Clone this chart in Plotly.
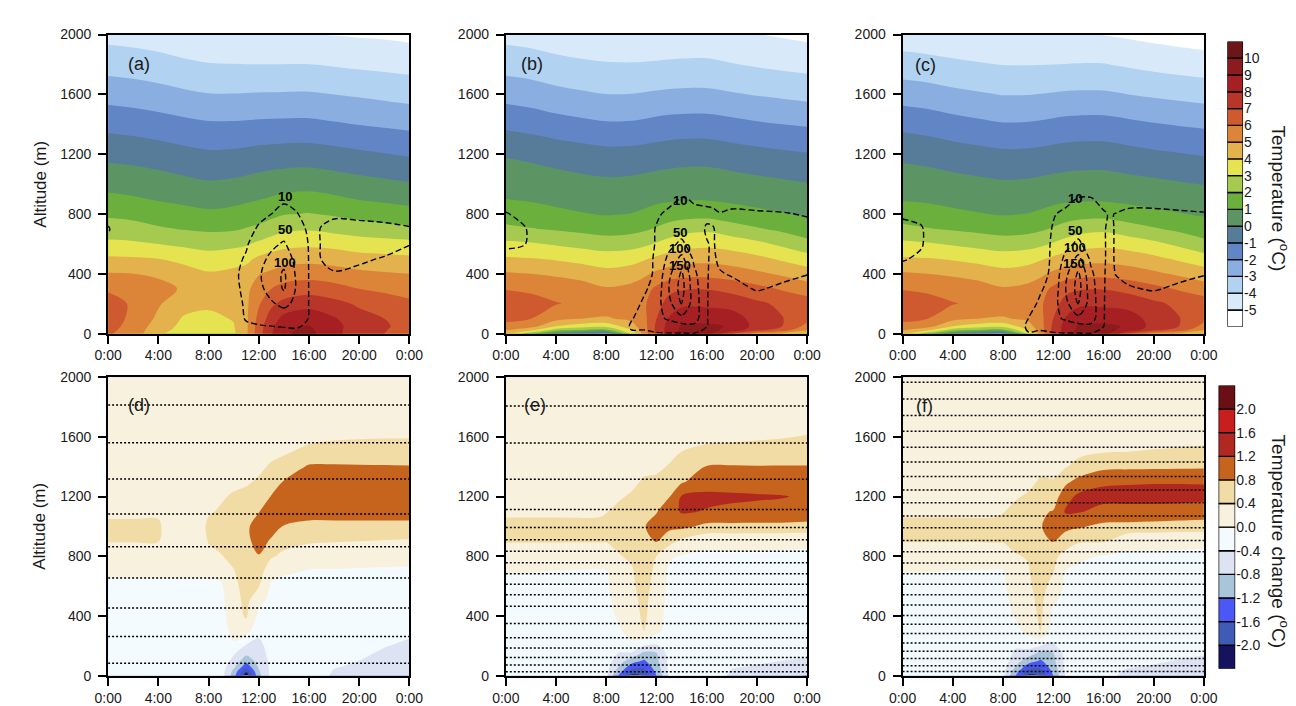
import numpy as np
import plotly.graph_objects as go

FONT = "Liberation Sans, Arial, Helvetica, sans-serif"

HOUR_TICKS = [0, 4, 8, 12, 16, 20, 24]
HOUR_LABELS = ["0:00", "4:00", "8:00", "12:00", "16:00", "20:00", "0:00"]
ALT_TICKS = [0, 400, 800, 1200, 1600, 2000]

# ---- colour scales -------------------------------------------------------
TEMP_LEVELS = [-5, -4, -3, -2, -1, 0, 1, 2, 3, 4, 5, 6, 7, 8, 9, 10]
TEMP_COLORS = ["#FFFFFF", "#D8EAF9", "#B1D2F1", "#8BAEE0", "#6286C5", "#577C9A",
               "#5C9464", "#6BAF3D", "#A6C94F", "#E6E351", "#E3B24C", "#DC8539",
               "#CF5A2F", "#B8352A", "#A51F23", "#8C1B1E", "#6B1619"]
DIFF_LEVELS = [-2.0, -1.6, -1.2, -0.8, -0.4, 0.0, 0.4, 0.8, 1.2, 1.6, 2.0]
DIFF_COLORS = ["#16135E", "#3F5BB5", "#4B58F5", "#A9C5D9", "#DDE3F2", "#F3FBFE",
               "#F8F1DE", "#F2DCA5", "#C6631D", "#B0281F", "#C81E1E", "#6A0F14"]

# ---- temperature (panels a-c): vertical profiles at each time ------------
T_TIMES = [0, 2, 4, 6, 8, 10, 11, 12, 13, 14, 16, 18, 20, 22, 24]
T_ALTS = [0, 25, 50, 100, 200, 300, 400, 500, 600, 700, 800, 900, 1000, 1200, 1400, 1600, 1800, 2000]

TEMP_A = [
    [6.1, 6.2, 6.3, 6.4, 6.3, 5.9, 5.06, 4.17, 3.21, 2.48, 1.84, 1.23, 0.70, -0.27, -1.30, -2.37, -3.39, -4.31],
    [5.6, 5.65, 5.7, 5.8, 5.9, 5.7, 5.0, 4.12, 3.15, 2.4, 1.7, 1.1, 0.6, -0.37, -1.41, -2.48, -3.48, -4.40],
    [4.1, 4.3, 4.5, 4.8, 5.1, 5.3, 4.85, 4.0, 3.0, 2.12, 1.50, 0.92, 0.46, -0.51, -1.56, -2.64, -3.61, -4.53],
    [3.6, 3.7, 3.75, 3.9, 4.4, 4.9, 4.5, 3.7, 2.8, 1.95, 1.33, 0.78, 0.28, -0.70, -1.74, -2.82, -3.80, -4.75],
    [3.5, 3.55, 3.6, 3.8, 4.15, 4.4, 4.1, 3.45, 2.63, 1.84, 1.18, 0.63, 0.12, -0.85, -1.88, -2.96, -3.94, -4.93],
    [3.85, 3.9, 3.95, 4.05, 4.3, 4.5, 4.25, 3.6, 2.75, 1.9, 1.30, 0.72, 0.20, -0.80, -1.88, -2.97, -3.98, -4.97],
    [4.8, 4.8, 4.8, 4.8, 4.8, 4.8, 4.4, 3.75, 2.9, 2.05, 1.43, 0.84, 0.30, -0.74, -1.85, -2.95, -3.99, -4.98],
    [6.6, 6.55, 6.5, 6.3, 5.9, 5.4, 4.95, 4.2, 3.2, 2.2, 1.57, 0.96, 0.42, -0.66, -1.81, -2.93, -3.99, -4.99],
    [7.9, 7.85, 7.8, 7.5, 6.8, 6.0, 5.2, 4.4, 3.5, 2.5, 1.75, 1.10, 0.52, -0.60, -1.79, -2.92, -3.99, -4.99],
    [8.9, 8.8, 8.7, 8.3, 7.3, 6.35, 5.45, 4.6, 3.7, 2.8, 1.95, 1.25, 0.62, -0.56, -1.78, -2.91, -3.99, -4.99],
    [9.3, 9.2, 9.05, 8.6, 7.65, 6.55, 5.6, 4.7, 3.8, 2.9, 2.05, 1.34, 0.68, -0.54, -1.77, -2.90, -3.99, -4.99],
    [8.3, 8.3, 8.3, 8.1, 7.3, 6.35, 5.45, 4.6, 3.7, 2.7, 1.88, 1.17, 0.54, -0.66, -1.90, -3.00, -4.08, -5.03],
    [7.4, 7.45, 7.5, 7.35, 6.85, 6.0, 5.23, 4.39, 3.48, 2.51, 1.66, 0.96, 0.36, -0.82, -2.03, -3.11, -4.18, -5.10],
    [7.0, 7.05, 7.1, 7.0, 6.5, 5.8, 5.1, 4.3, 3.4, 2.35, 1.52, 0.83, 0.22, -0.96, -2.14, -3.23, -4.26, -5.15],
    [6.6, 6.65, 6.7, 6.6, 6.2, 5.6, 5.0, 4.2, 3.3, 2.2, 1.37, 0.69, 0.08, -1.10, -2.25, -3.36, -4.34, -5.25],
]

TEMP_B = [
    [4.3, 5.1, 5.7, 6.25, 6.6, 5.95, 5.12, 4.12, 3.22, 2.2, 1.55, 1.0, 0.64, -0.09, -1.22, -2.36, -3.39, -4.31],
    [2.2, 4.3, 5.4, 6.0, 6.4, 5.8, 5.0, 4.05, 3.1, 2.05, 1.4, 0.9, 0.55, -0.22, -1.38, -2.5, -3.5, -4.42],
    [0.0, 2.5, 4.0, 5.3, 6.05, 5.65, 4.85, 3.9, 2.9, 1.9, 1.2, 0.78, 0.42, -0.4, -1.6, -2.72, -3.68, -4.62],
    [-0.8, 2.0, 3.5, 5.0, 5.8, 5.5, 4.6, 3.7, 2.7, 1.75, 1.05, 0.68, 0.3, -0.55, -1.76, -2.87, -3.82, -4.78],
    [-1.2, 1.8, 3.3, 4.9, 5.6, 5.1, 4.3, 3.53, 2.5, 1.6, 0.94, 0.58, 0.21, -0.69, -1.89, -2.99, -3.91, -4.90],
    [3.2, 4.0, 4.6, 5.2, 5.7, 5.3, 4.5, 3.65, 2.6, 1.7, 1.02, 0.64, 0.26, -0.66, -1.87, -2.98, -3.93, -4.92],
    [5.4, 5.5, 5.6, 5.7, 5.85, 5.6, 4.8, 3.9, 2.8, 1.85, 1.15, 0.72, 0.34, -0.6, -1.8, -2.93, -3.91, -4.91],
    [7.3, 7.25, 7.2, 7.0, 6.6, 6.2, 5.2, 4.2, 3.1, 2.1, 1.33, 0.82, 0.42, -0.52, -1.7, -2.87, -3.87, -4.88],
    [8.5, 8.45, 8.4, 8.1, 7.4, 6.7, 5.5, 4.45, 3.4, 2.4, 1.5, 0.88, 0.48, -0.45, -1.62, -2.82, -3.83, -4.84],
    [9.3, 9.2, 9.1, 8.6, 7.8, 6.9, 5.65, 4.6, 3.6, 2.65, 1.6, 0.92, 0.52, -0.4, -1.58, -2.79, -3.8, -4.8],
    [9.5, 9.4, 9.2, 8.6, 7.8, 6.95, 5.7, 4.7, 3.75, 2.8, 1.65, 0.93, 0.53, -0.39, -1.57, -2.79, -3.79, -4.80],
    [7.0, 8.6, 8.9, 8.5, 7.6, 6.7, 5.5, 4.55, 3.55, 2.45, 1.4, 0.83, 0.42, -0.55, -1.72, -2.92, -3.95, -4.93],
    [5.5, 7.3, 7.6, 7.6, 7.2, 6.3, 5.2, 4.25, 3.25, 2.1, 1.2, 0.72, 0.3, -0.7, -1.88, -3.05, -4.1, -4.98],
    [4.8, 6.5, 7.0, 7.05, 6.8, 5.9, 4.85, 3.85, 2.8, 1.8, 1.05, 0.62, 0.17, -0.82, -2.0, -3.17, -4.22, -5.1],
    [4.3, 5.1, 5.7, 6.25, 6.5, 5.5, 4.48, 3.46, 2.28, 1.52, 0.89, 0.53, 0.05, -0.93, -2.1, -3.29, -4.32, -5.23],
]

TEMP_C = [
    [4.3, 5.1, 5.7, 6.25, 6.6, 5.95, 5.12, 4.12, 3.22, 2.25, 1.53, 0.92, 0.56, -0.23, -1.28, -2.44, -3.57, -4.55],
    [2.2, 4.3, 5.4, 6.0, 6.4, 5.8, 5.0, 4.05, 3.1, 2.05, 1.4, 0.85, 0.47, -0.34, -1.42, -2.56, -3.66, -4.65],
    [0.0, 2.5, 4.0, 5.3, 6.05, 5.65, 4.85, 3.9, 2.9, 1.9, 1.2, 0.73, 0.35, -0.52, -1.62, -2.76, -3.8, -4.78],
    [-0.8, 2.0, 3.5, 5.0, 5.8, 5.5, 4.6, 3.7, 2.7, 1.75, 1.05, 0.63, 0.24, -0.67, -1.78, -2.9, -3.92, -4.88],
    [-1.2, 1.8, 3.3, 4.9, 5.6, 5.1, 4.3, 3.53, 2.5, 1.6, 0.94, 0.53, 0.14, -0.8, -1.93, -3.03, -4.02, -4.95],
    [3.2, 4.0, 4.6, 5.2, 5.7, 5.3, 4.5, 3.65, 2.6, 1.7, 1.02, 0.59, 0.18, -0.78, -1.91, -3.02, -4.03, -4.96],
    [5.4, 5.5, 5.6, 5.7, 5.85, 5.6, 4.8, 3.9, 2.8, 1.85, 1.15, 0.67, 0.26, -0.72, -1.85, -2.98, -4.02, -4.97],
    [7.3, 7.25, 7.2, 7.0, 6.6, 6.2, 5.2, 4.2, 3.1, 2.1, 1.33, 0.77, 0.34, -0.64, -1.76, -2.93, -4.0, -4.98],
    [8.5, 8.45, 8.4, 8.1, 7.4, 6.7, 5.5, 4.45, 3.4, 2.4, 1.5, 0.83, 0.4, -0.57, -1.68, -2.88, -3.98, -4.98],
    [9.3, 9.2, 9.1, 8.6, 7.8, 6.9, 5.65, 4.6, 3.6, 2.65, 1.6, 0.87, 0.44, -0.53, -1.64, -2.85, -3.96, -4.97],
    [9.5, 9.4, 9.2, 8.6, 7.8, 6.95, 5.7, 4.7, 3.75, 2.8, 1.65, 0.88, 0.45, -0.52, -1.63, -2.86, -3.96, -5.02],
    [7.0, 8.6, 8.9, 8.5, 7.6, 6.7, 5.5, 4.55, 3.55, 2.45, 1.4, 0.78, 0.34, -0.68, -1.78, -3.0, -4.12, -5.15],
    [5.5, 7.3, 7.6, 7.6, 7.2, 6.3, 5.2, 4.25, 3.25, 2.1, 1.2, 0.67, 0.22, -0.83, -1.94, -3.13, -4.28, -5.3],
    [4.8, 6.5, 7.0, 7.05, 6.8, 5.9, 4.85, 3.85, 2.8, 1.8, 1.05, 0.57, 0.09, -0.95, -2.06, -3.25, -4.4, -5.42],
    [4.3, 5.1, 5.7, 6.25, 6.5, 5.5, 4.48, 3.46, 2.28, 1.52, 0.89, 0.48, -0.03, -1.07, -2.16, -3.37, -4.5, -5.53],
]

# ---- dashed field (panels a-c): vertical profiles at each time -----------
W_TIMES = [0, 1.5, 3, 9, 10, 11, 12, 13, 14, 15, 16, 16.5, 17, 18, 20, 22, 24]
W_ALTS = [0, 50, 100, 200, 300, 400, 500, 600, 700, 800, 900, 1000]

W_A = [
    [0, 0, 0, 0, 0, 0, 2, 8, 11, 6, 0, 0],
    [0, 0, 0, 0, 0, 0, 0, 0, 0, 0, 0, 0],
    [0, 0, 0, 0, 0, 0, 0, 0, 0, 0, 0, 0],
    [0, 0, 0, 0, 0, 0, 0, 0, 0, 0, 0, 0],
    [0, 2, 4, 5, 6, 6, 5, 4, 2, 0, 0, 0],
    [2, 8, 11, 12, 14, 16, 12, 8, 4, 2, 0, 0],
    [4, 9, 14, 25, 40, 45, 35, 20, 12, 6, 2, 0],
    [5, 10, 20, 45, 65, 70, 60, 40, 14, 10, 4, 0],
    [5, 11, 25, 60, 105, 108, 80, 55, 28, 14, 8, 0],
    [5, 12, 20, 40, 45, 42, 35, 22, 15, 11, 5, 0],
    [2, 7, 9, 9, 9, 9, 9, 9, 8, 4, 0, 0],
    [0, 2, 3, 3, 3, 4, 5, 6, 7, 3, 0, 0],
    [0, 0, 0, 0, 2, 6, 10.5, 11, 11, 6, 0, 0],
    [0, 0, 0, 0, 3, 9, 14, 15, 14, 8, 0, 0],
    [0, 0, 0, 0, 4, 7, 12, 17, 14, 7, 0, 0],
    [0, 0, 0, 0, 2, 5, 9, 15, 13, 6, 0, 0],
    [0, 0, 0, 0, 0, 2, 5, 10.5, 11, 5, 0, 0],
]

W_B = [
    [0, 0, 0, 0, 0, 1, 6, 12, 14, 11, 3, 0],
    [0, 0, 0, 0, 0, 0, 4, 10.5, 11, 6, 0, 0],
    [0, 0, 0, 0, 0, 0, 0, 0, 0, 0, 0, 0],
    [0, 0, 0, 0, 0, 0, 0, 0, 0, 0, 0, 0],
    [8, 12, 9, 5, 3, 2, 1, 0, 0, 0, 0, 0],
    [6, 14, 16, 12, 8, 6, 5, 4, 3, 2, 0, 0],
    [7, 25, 40, 30, 15, 12, 12, 11, 11, 8, 3, 0],
    [8, 30, 55, 85, 102, 88, 62, 36, 18, 13, 6, 0],
    [8, 30, 85, 152, 170, 158, 115, 60, 30, 18, 11, 2],
    [8, 40, 70, 75, 70, 60, 40, 22, 15, 12, 9, 2],
    [4, 10.5, 11, 11, 11, 11, 11, 10.5, 9, 12, 8, 2],
    [0, 2, 4, 5, 6, 7, 8, 9, 9.5, 12, 7, 0],
    [0, 0, 1, 3, 5, 9, 12, 13, 12, 11, 3, 0],
    [0, 0, 0, 2, 6, 11, 15, 16, 16, 13, 4, 0],
    [0, 0, 0, 4, 11, 15, 17, 17, 16, 12, 3, 0],
    [0, 0, 0, 2, 8, 13, 16, 17, 15, 11, 3, 0],
    [0, 0, 0, 0, 4, 10.5, 14, 15, 14, 9, 2, 0],
]

W_C = [
    [0, 0, 0, 0, 0, 5, 11, 13, 12, 9, 2, 0],
    [0, 0, 0, 0, 0, 3, 8, 11, 11, 7, 0, 0],
    [0, 0, 0, 0, 0, 0, 0, 0, 0, 0, 0, 0],
    [0, 0, 0, 0, 0, 0, 0, 0, 0, 0, 0, 0],
    [9, 13, 10, 6, 3, 2, 1, 0, 0, 0, 0, 0],
    [7, 14, 16, 12, 9, 7, 5, 4, 3, 2, 0, 0],
    [7, 25, 40, 30, 14, 12, 12, 12, 11, 9, 2, 0],
    [8, 30, 55, 85, 102, 88, 62, 36, 18, 13, 6, 0],
    [8, 30, 85, 152, 170, 158, 115, 60, 30, 18, 11, 2],
    [8, 40, 70, 75, 70, 60, 40, 22, 15, 12, 11, 2],
    [4, 10.5, 11, 11, 11, 11, 11, 11, 11, 11.5, 6, 0],
    [0, 2, 4, 5, 6, 7, 8, 8, 8, 9, 4, 0],
    [0, 0, 1, 3, 6, 10.5, 11, 11, 11, 10.5, 2, 0],
    [0, 0, 0, 3, 9, 13, 15, 16, 15, 13, 5, 0],
    [0, 0, 0, 4, 11, 15, 17, 17, 16, 13, 5, 0],
    [0, 0, 0, 2, 8, 13, 16, 17, 15, 12, 4, 0],
    [0, 0, 0, 0, 3, 11, 14, 15, 14, 11, 3, 0],
]

W_LABELS = {
    0: [("10", 14.1, 915), ("50", 14.1, 697), ("100", 14.1, 479)],
    1: [("10", 13.9, 893), ("50", 13.9, 675), ("100", 13.9, 566), ("150", 13.9, 458)],
    2: [("10", 13.75, 905), ("50", 13.75, 691), ("100", 13.75, 577), ("150", 13.65, 468)],
}

# ---- temperature change (panels d-f): vertical profiles at each time -----
D_TIMES = [0, 2, 4, 4.4, 7.6, 8, 9, 10, 11, 12, 13, 14, 16, 18, 20, 22, 24]
D_ALTS = [0, 30, 60, 100, 150, 200, 300, 400, 500, 600, 700, 800, 900, 1000, 1100,
          1200, 1300, 1400, 1500, 1600, 1700, 2000]

DIFF_D = [
    [-0.15, -0.15, -0.15, -0.15, -0.15, -0.15, -0.15, -0.15, -0.15, -0.12, 0.1, 0.25, 0.41, 0.5, 0.3, 0.2, 0.2, 0.2, 0.2, 0.2, 0.2, 0.2],
    [-0.15, -0.15, -0.15, -0.15, -0.15, -0.15, -0.15, -0.15, -0.15, -0.12, 0.1, 0.25, 0.41, 0.5, 0.3, 0.2, 0.2, 0.2, 0.2, 0.2, 0.2, 0.2],
    [-0.15, -0.15, -0.15, -0.15, -0.15, -0.15, -0.15, -0.15, -0.15, -0.12, 0.1, 0.25, 0.41, 0.5, 0.3, 0.2, 0.2, 0.2, 0.2, 0.2, 0.2, 0.2],
    [-0.15, -0.15, -0.15, -0.15, -0.15, -0.15, -0.15, -0.15, -0.15, -0.12, 0.1, 0.22, 0.3, 0.33, 0.25, 0.2, 0.2, 0.2, 0.2, 0.2, 0.2, 0.2],
    [-0.15, -0.15, -0.15, -0.15, -0.15, -0.15, -0.15, -0.15, -0.15, -0.12, 0.1, 0.22, 0.3, 0.33, 0.25, 0.2, 0.2, 0.2, 0.2, 0.2, 0.2, 0.2],
    [-0.15, -0.15, -0.15, -0.15, -0.15, -0.15, -0.15, -0.15, -0.15, -0.1, 0.1, 0.3, 0.42, 0.5, 0.35, 0.22, 0.2, 0.2, 0.2, 0.2, 0.2, 0.2],
    [-0.2, -0.2, -0.2, -0.18, -0.17, -0.16, -0.15, -0.13, -0.1, -0.05, 0.1, 0.38, 0.5, 0.55, 0.45, 0.35, 0.25, 0.2, 0.2, 0.2, 0.2, 0.2],
    [-1.0, -0.9, -0.7, -0.5, -0.35, -0.05, 0.1, 0.2, 0.25, 0.3, 0.38, 0.5, 0.6, 0.65, 0.6, 0.45, 0.3, 0.22, 0.2, 0.2, 0.2, 0.2],
    [-2.3, -1.9, -1.45, -1.05, -0.7, -0.45, 0.15, 0.45, 0.5, 0.55, 0.6, 0.65, 0.7, 0.72, 0.7, 0.5, 0.35, 0.25, 0.2, 0.2, 0.2, 0.2],
    [-0.9, -0.85, -0.75, -0.65, -0.55, -0.5, -0.3, -0.1, 0.1, 0.42, 0.6, 0.78, 0.95, 1.0, 0.78, 0.6, 0.45, 0.32, 0.25, 0.2, 0.2, 0.2],
    [-0.3, -0.3, -0.3, -0.3, -0.28, -0.25, -0.2, -0.15, -0.1, -0.05, 0.1, 0.45, 0.75, 0.95, 1.05, 0.82, 0.6, 0.45, 0.3, 0.22, 0.2, 0.2],
    [-0.15, -0.15, -0.15, -0.15, -0.15, -0.15, -0.15, -0.13, -0.12, -0.1, 0.05, 0.3, 0.55, 0.78, 1.0, 1.05, 0.82, 0.55, 0.35, 0.22, 0.2, 0.2],
    [-0.2, -0.2, -0.2, -0.18, -0.17, -0.16, -0.15, -0.13, -0.12, -0.1, -0.02, 0.15, 0.45, 0.7, 0.95, 1.05, 1.05, 0.85, 0.5, 0.3, 0.22, 0.2],
    [-0.45, -0.42, -0.38, -0.33, -0.28, -0.25, -0.2, -0.16, -0.13, -0.1, -0.02, 0.12, 0.42, 0.7, 0.95, 1.05, 1.05, 0.85, 0.55, 0.35, 0.22, 0.2],
    [-0.5, -0.48, -0.45, -0.4, -0.36, -0.32, -0.25, -0.18, -0.14, -0.1, -0.03, 0.11, 0.4, 0.7, 0.95, 1.05, 1.05, 0.84, 0.55, 0.37, 0.23, 0.2],
    [-0.55, -0.53, -0.5, -0.47, -0.43, -0.39, -0.3, -0.2, -0.15, -0.1, -0.04, 0.1, 0.37, 0.7, 0.95, 1.05, 1.05, 0.83, 0.55, 0.38, 0.24, 0.2],
    [-0.6, -0.57, -0.55, -0.52, -0.48, -0.44, -0.36, -0.22, -0.16, -0.1, -0.05, 0.1, 0.35, 0.7, 0.95, 1.05, 1.05, 0.82, 0.55, 0.38, 0.25, 0.2],
]

DIFF_E = [
    [-0.12, -0.12, -0.12, -0.12, -0.12, -0.12, -0.12, -0.12, -0.1, -0.08, 0.02, 0.2, 0.42, 0.55, 0.3, 0.2, 0.2, 0.2, 0.2, 0.2, 0.2, 0.2],
    [-0.12, -0.12, -0.12, -0.12, -0.12, -0.12, -0.12, -0.12, -0.1, -0.08, 0.01, 0.2, 0.42, 0.55, 0.3, 0.2, 0.2, 0.2, 0.2, 0.2, 0.2, 0.2],
    [-0.13, -0.13, -0.13, -0.13, -0.13, -0.13, -0.13, -0.12, -0.11, -0.1, -0.01, 0.2, 0.42, 0.55, 0.3, 0.2, 0.2, 0.2, 0.2, 0.2, 0.2, 0.2],
    [-0.13, -0.13, -0.13, -0.13, -0.13, -0.13, -0.13, -0.12, -0.11, -0.1, -0.01, 0.2, 0.42, 0.55, 0.3, 0.2, 0.2, 0.2, 0.2, 0.2, 0.2, 0.2],
    [-0.2, -0.18, -0.16, -0.14, -0.13, -0.13, -0.13, -0.12, -0.11, -0.1, -0.03, 0.18, 0.42, 0.55, 0.32, 0.2, 0.2, 0.2, 0.2, 0.2, 0.2, 0.2],
    [-0.3, -0.28, -0.25, -0.2, -0.17, -0.15, -0.13, -0.11, -0.09, -0.07, -0.02, 0.18, 0.42, 0.55, 0.38, 0.22, 0.2, 0.2, 0.2, 0.2, 0.2, 0.2],
    [-1.25, -1.0, -0.82, -0.6, -0.42, -0.3, -0.05, 0.05, 0.12, 0.22, 0.3, 0.38, 0.47, 0.55, 0.5, 0.35, 0.25, 0.2, 0.2, 0.2, 0.2, 0.2],
    [-2.1, -1.75, -1.4, -1.0, -0.45, -0.1, 0.15, 0.2, 0.28, 0.33, 0.36, 0.45, 0.55, 0.6, 0.58, 0.45, 0.3, 0.22, 0.2, 0.2, 0.2, 0.2],
    [-2.0, -1.75, -1.5, -1.25, -0.9, -0.4, 0.42, 0.48, 0.5, 0.55, 0.6, 0.65, 0.7, 0.78, 0.75, 0.6, 0.45, 0.3, 0.22, 0.2, 0.2, 0.2],
    [-1.2, -1.1, -1.0, -0.9, -0.82, -0.45, 0.1, 0.15, 0.2, 0.25, 0.3, 0.4, 0.82, 0.92, 0.78, 0.6, 0.45, 0.35, 0.25, 0.2, 0.2, 0.2],
    [-0.35, -0.33, -0.3, -0.28, -0.25, -0.2, -0.15, -0.12, -0.1, -0.08, -0.06, 0.04, 0.55, 0.9, 1.0, 0.78, 0.55, 0.42, 0.32, 0.25, 0.2, 0.2],
    [-0.2, -0.2, -0.2, -0.18, -0.17, -0.16, -0.14, -0.12, -0.1, -0.08, -0.05, -0.02, 0.3, 0.9, 1.24, 1.23, 0.75, 0.55, 0.4, 0.25, 0.22, 0.2],
    [-0.2, -0.2, -0.19, -0.18, -0.17, -0.16, -0.14, -0.12, -0.1, -0.08, -0.06, -0.04, 0.06, 0.7, 1.18, 1.27, 1.05, 0.82, 0.48, 0.32, 0.25, 0.2],
    [-0.45, -0.42, -0.38, -0.32, -0.28, -0.24, -0.18, -0.14, -0.11, -0.09, -0.06, -0.03, 0.06, 0.7, 1.14, 1.25, 1.05, 0.83, 0.5, 0.34, 0.24, 0.2],
    [-0.55, -0.48, -0.42, -0.36, -0.3, -0.26, -0.2, -0.15, -0.12, -0.09, -0.07, -0.03, 0.05, 0.7, 1.12, 1.23, 1.05, 0.82, 0.52, 0.36, 0.25, 0.2],
    [-0.65, -0.55, -0.47, -0.4, -0.34, -0.29, -0.22, -0.16, -0.12, -0.1, -0.07, -0.03, 0.04, 0.7, 1.1, 1.215, 1.03, 0.82, 0.55, 0.38, 0.26, 0.2],
    [-0.85, -0.6, -0.5, -0.42, -0.37, -0.32, -0.24, -0.17, -0.13, -0.1, -0.07, -0.03, 0.03, 0.68, 1.05, 1.16, 1.0, 0.82, 0.55, 0.42, 0.28, 0.2],
]

DIFF_F = [
    [-0.12, -0.12, -0.12, -0.12, -0.12, -0.12, -0.12, -0.12, -0.1, -0.08, 0.01, 0.2, 0.41, 0.55, 0.3, 0.2, 0.2, 0.2, 0.2, 0.2, 0.2, 0.2],
    [-0.12, -0.12, -0.12, -0.12, -0.12, -0.12, -0.12, -0.12, -0.1, -0.08, 0.01, 0.2, 0.41, 0.55, 0.3, 0.2, 0.2, 0.2, 0.2, 0.2, 0.2, 0.2],
    [-0.13, -0.13, -0.13, -0.13, -0.13, -0.13, -0.13, -0.12, -0.11, -0.1, -0.01, 0.2, 0.41, 0.55, 0.3, 0.2, 0.2, 0.2, 0.2, 0.2, 0.2, 0.2],
    [-0.13, -0.13, -0.13, -0.13, -0.13, -0.13, -0.13, -0.12, -0.11, -0.1, -0.01, 0.2, 0.41, 0.55, 0.3, 0.2, 0.2, 0.2, 0.2, 0.2, 0.2, 0.2],
    [-0.2, -0.18, -0.16, -0.14, -0.13, -0.13, -0.13, -0.12, -0.11, -0.1, -0.03, 0.18, 0.42, 0.55, 0.32, 0.2, 0.2, 0.2, 0.2, 0.2, 0.2, 0.2],
    [-0.3, -0.28, -0.25, -0.2, -0.17, -0.15, -0.13, -0.11, -0.09, -0.07, -0.03, 0.18, 0.42, 0.55, 0.38, 0.22, 0.2, 0.2, 0.2, 0.2, 0.2, 0.2],
    [-1.2, -1.0, -0.82, -0.62, -0.48, -0.35, -0.1, 0.03, 0.1, 0.2, 0.3, 0.38, 0.48, 0.55, 0.5, 0.36, 0.25, 0.2, 0.2, 0.2, 0.2, 0.2],
    [-2.1, -1.75, -1.4, -1.0, -0.6, -0.25, 0.1, 0.2, 0.28, 0.33, 0.37, 0.42, 0.55, 0.6, 0.58, 0.45, 0.3, 0.22, 0.2, 0.2, 0.2, 0.2],
    [-2.0, -1.75, -1.5, -1.25, -0.9, -0.4, 0.42, 0.48, 0.5, 0.55, 0.6, 0.65, 0.7, 0.78, 0.75, 0.6, 0.45, 0.3, 0.22, 0.2, 0.2, 0.2],
    [-1.2, -1.1, -1.0, -0.9, -0.82, -0.45, -0.25, -0.1, 0.05, 0.25, 0.42, 0.5, 0.82, 0.95, 0.82, 0.6, 0.42, 0.32, 0.25, 0.2, 0.2, 0.2],
    [-0.35, -0.33, -0.3, -0.28, -0.25, -0.22, -0.17, -0.13, -0.1, -0.07, -0.02, 0.25, 0.6, 0.9, 1.25, 1.05, 0.72, 0.38, 0.28, 0.22, 0.2, 0.2],
    [-0.2, -0.2, -0.2, -0.18, -0.17, -0.16, -0.14, -0.12, -0.1, -0.08, -0.05, 0.05, 0.45, 0.85, 1.23, 1.28, 0.92, 0.5, 0.33, 0.25, 0.2, 0.2],
    [-0.3, -0.27, -0.24, -0.2, -0.18, -0.16, -0.14, -0.12, -0.1, -0.08, -0.06, -0.02, 0.42, 0.7, 1.1, 1.3, 1.15, 0.7, 0.38, 0.3, 0.24, 0.2],
    [-0.48, -0.44, -0.38, -0.32, -0.27, -0.23, -0.18, -0.14, -0.11, -0.09, -0.06, -0.03, 0.06, 0.68, 1.1, 1.3, 1.17, 0.72, 0.4, 0.3, 0.24, 0.2],
    [-0.55, -0.48, -0.42, -0.37, -0.31, -0.26, -0.2, -0.15, -0.12, -0.09, -0.07, -0.03, 0.05, 0.65, 1.1, 1.3, 1.18, 0.73, 0.42, 0.3, 0.25, 0.2],
    [-0.62, -0.52, -0.46, -0.41, -0.35, -0.29, -0.22, -0.16, -0.12, -0.1, -0.07, -0.03, 0.04, 0.62, 1.08, 1.3, 1.18, 0.74, 0.43, 0.32, 0.25, 0.2],
    [-0.8, -0.56, -0.5, -0.44, -0.38, -0.32, -0.24, -0.17, -0.13, -0.1, -0.07, -0.03, 0.03, 0.6, 1.05, 1.28, 1.18, 0.75, 0.45, 0.33, 0.26, 0.2],
]

# ---- model levels (dotted lines) in panels d-f ----------------------------
LEVELS_D = [83, 262, 454, 654, 864, 1084, 1318, 1561, 1814]
LEVELS_E = [26, 72, 122, 185, 255, 350, 465, 542, 612, 683, 757, 833, 911, 992, 1113, 1316, 1559, 1807]
LEVELS_F = [29, 67, 115, 164, 219, 282, 345, 403, 473, 542, 612, 683, 755, 831, 905, 991,
            1069, 1159, 1244, 1335, 1432, 1531, 1637, 1743, 1853, 1966]

PANEL_LABELS = ["(a)", "(b)", "(c)", "(d)", "(e)", "(f)"]
PANEL_LABEL_POS = [(2.5, 1800), (2.1, 1805), (1.8, 1795), (2.5, 1812), (2.3, 1810), (1.75, 1805)]

# ---- layout geometry (pixels) --------------------------------------------
W, H = 1296, 706
COLS = [(88, 396), (494.5, 802.5), (900, 1208)]
ROWS = [(19, 325), (369.5, 675)]


def xdom(a, b):
    return [a / W, b / W]


def ydom(top, bottom):
    return [1 - bottom / H, 1 - top / H]


def stepped(colors):
    n = len(colors)
    out = []
    for i, c in enumerate(colors):
        out.append([i / n, c])
        out.append([(i + 1) / n, c])
    return out


def grid(profiles):
    return np.array(profiles, dtype=float).T.tolist()


fig = go.Figure()

temp_sets = [TEMP_A, TEMP_B, TEMP_C]
w_sets = [W_A, W_B, W_C]
diff_sets = [DIFF_D, DIFF_E, DIFF_F]
level_sets = [LEVELS_D, LEVELS_E, LEVELS_F]

annotations = []

for i in range(3):
    xa, ya = ("x" if i == 0 else "x%d" % (i + 1)), ("y" if i == 0 else "y%d" % (i + 1))
    fig.add_trace(go.Contour(
        x=T_TIMES, y=T_ALTS, z=grid(temp_sets[i]), xaxis=xa, yaxis=ya,
        autocontour=False,
        contours=dict(start=TEMP_LEVELS[0], end=TEMP_LEVELS[-1], size=1,
                      coloring="fill", showlines=False),
        colorscale=stepped(TEMP_COLORS), showscale=False,
        line=dict(width=0, smoothing=1), hoverinfo="skip"))
    fig.add_trace(go.Contour(
        x=W_TIMES, y=W_ALTS, z=grid(w_sets[i]), xaxis=xa, yaxis=ya,
        autocontour=False,
        contours=dict(start=10, end=10, size=1, coloring="none"),
        line=dict(color="black", width=1.4, dash="6px,3px", smoothing=1),
        showscale=False, hoverinfo="skip"))
    fig.add_trace(go.Contour(
        x=W_TIMES, y=W_ALTS, z=grid(w_sets[i]), xaxis=xa, yaxis=ya,
        autocontour=False,
        contours=dict(start=50, end=150, size=50, coloring="none"),
        line=dict(color="black", width=1.4, dash="6px,3px", smoothing=1),
        showscale=False, hoverinfo="skip"))
    for txt, tx, ty in W_LABELS[i]:
        annotations.append(dict(x=tx, y=ty, xref=xa, yref=ya, text="<b>%s</b>" % txt,
                                showarrow=False, font=dict(family=FONT, size=13, color="black")))

for i in range(3):
    k = i + 4
    xa, ya = "x%d" % k, "y%d" % k
    fig.add_trace(go.Contour(
        x=D_TIMES, y=D_ALTS, z=grid(diff_sets[i]), xaxis=xa, yaxis=ya,
        autocontour=False,
        contours=dict(start=DIFF_LEVELS[0], end=DIFF_LEVELS[-1], size=0.4,
                      coloring="fill", showlines=False),
        colorscale=stepped(DIFF_COLORS), showscale=False,
        line=dict(width=0, smoothing=1), hoverinfo="skip"))
    xs, ys = [], []
    for lev in level_sets[i]:
        xs += [0, 24, None]
        ys += [lev, lev, None]
    fig.add_trace(go.Scatter(x=xs, y=ys, mode="lines", xaxis=xa, yaxis=ya,
                             line=dict(color="black", width=1.5, dash="2px,2px"),
                             hoverinfo="skip", showlegend=False))

# colour bars as stacked bars
fig.add_trace(go.Bar(x=[0] * len(TEMP_COLORS), y=[1] * len(TEMP_COLORS),
                     base=list(range(len(TEMP_COLORS))), width=1,
                     marker=dict(color=TEMP_COLORS, line=dict(color="black", width=1.3)),
                     xaxis="x7", yaxis="y7", hoverinfo="skip", showlegend=False))
fig.add_trace(go.Bar(x=[0] * len(DIFF_COLORS), y=[1] * len(DIFF_COLORS),
                     base=list(range(len(DIFF_COLORS))), width=1,
                     marker=dict(color=DIFF_COLORS, line=dict(color="black", width=1.3)),
                     xaxis="x8", yaxis="y8", hoverinfo="skip", showlegend=False))

tickfont = dict(family=FONT, size=14, color="#1a1a1a")
layout = dict(width=W, height=H, margin=dict(l=0, r=0, t=0, b=0),
              paper_bgcolor="white", plot_bgcolor="white", showlegend=False,
              barmode="overlay", font=dict(family=FONT, size=14, color="#1a1a1a"))

for p in range(6):
    r, c = divmod(p, 3)
    k = p + 1
    xkey = "xaxis" if k == 1 else "xaxis%d" % k
    ykey = "yaxis" if k == 1 else "yaxis%d" % k
    xa = "x" if k == 1 else "x%d" % k
    ya = "y" if k == 1 else "y%d" % k
    common = dict(showline=True, linewidth=2, linecolor="black", mirror=True,
                  ticks="outside", ticklen=8, tickwidth=1.5, tickcolor="black",
                  showgrid=False, zeroline=False, tickfont=tickfont, fixedrange=True)
    layout[xkey] = dict(domain=xdom(*COLS[c]), anchor=ya, range=[0, 24],
                        tickvals=HOUR_TICKS, ticktext=HOUR_LABELS, **common)
    layout[ykey] = dict(domain=ydom(*ROWS[r]), anchor=xa, range=[0, 2000],
                        tickvals=ALT_TICKS, ticklabelstandoff=4, **common)
    lx, ly = PANEL_LABEL_POS[p]
    annotations.append(dict(x=lx, y=ly, xref=xa, yref=ya, text=PANEL_LABELS[p],
                            showarrow=False, font=dict(family=FONT, size=18, color="#1a1a1a")))

layout["xaxis7"] = dict(domain=xdom(1232, 1248), anchor="y7", range=[-0.5, 0.5],
                        visible=False, fixedrange=True)
layout["yaxis7"] = dict(domain=ydom(26, 318), anchor="x7", range=[0, len(TEMP_COLORS)],
                        side="right", tickvals=list(range(1, len(TEMP_LEVELS) + 1)),
                        ticktext=[str(v) for v in TEMP_LEVELS], showgrid=False,
                        zeroline=False, showline=False, ticks="", tickfont=tickfont,
                        fixedrange=True)
layout["xaxis8"] = dict(domain=xdom(1223, 1240), anchor="y8", range=[-0.5, 0.5],
                        visible=False, fixedrange=True)
layout["yaxis8"] = dict(domain=ydom(378, 668), anchor="x8", range=[0, len(DIFF_COLORS)],
                        side="right", tickvals=list(range(1, len(DIFF_LEVELS) + 1)),
                        ticktext=["%.1f" % v for v in DIFF_LEVELS], showgrid=False,
                        zeroline=False, showline=False, ticks="", tickfont=tickfont,
                        fixedrange=True)

annotations += [
    dict(x=18 / W, y=1 - 172 / H, xref="paper", yref="paper", text="Altitude (m)",
         textangle=-90, showarrow=False, xanchor="center", yanchor="middle",
         font=dict(family=FONT, size=17, color="#1a1a1a")),
    dict(x=18 / W, y=1 - 522 / H, xref="paper", yref="paper", text="Altitude (m)",
         textangle=-90, showarrow=False, xanchor="center", yanchor="middle",
         font=dict(family=FONT, size=17, color="#1a1a1a")),
    dict(x=1286 / W, y=1 - 187 / H, xref="paper", yref="paper",
         text="Temperature (<sup>o</sup>C)", textangle=90, showarrow=False,
         xanchor="center", yanchor="middle",
         font=dict(family=FONT, size=19, color="#1a1a1a")),
    dict(x=1286 / W, y=1 - 537 / H, xref="paper", yref="paper",
         text="Temperature change (<sup>o</sup>C)", textangle=90, showarrow=False,
         xanchor="center", yanchor="middle",
         font=dict(family=FONT, size=19, color="#1a1a1a")),
]
layout["annotations"] = annotations

fig.update_layout(**layout)
fig.write_html("out.html", config={"displayModeBar": False})
